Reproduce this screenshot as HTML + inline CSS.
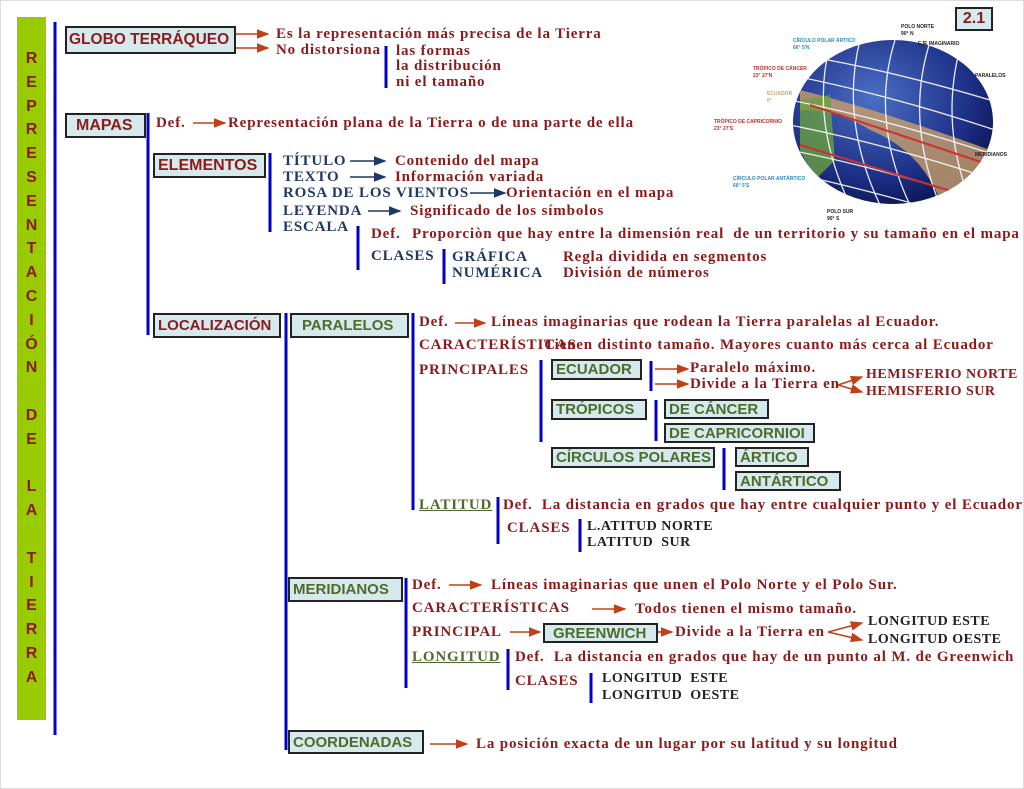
<!DOCTYPE html>
<html><head><meta charset="utf-8"><style>
body{margin:0;width:1024px;height:789px;position:relative;background:#fff;overflow:hidden;font-family:"Liberation Serif",serif}
.t{position:absolute;white-space:nowrap;line-height:18px;font-weight:bold;font-size:15px;letter-spacing:0.85px;color:#8b1a1a}
.n{color:#1f3864}
.k{color:#222;font-size:14px;letter-spacing:0.5px}
.b{position:absolute;border:2px solid #222;background:#d6eaee;font-family:"Liberation Sans",sans-serif;font-weight:bold;font-size:15px;color:#8b1a1a;box-sizing:border-box;padding-left:3px;white-space:nowrap;display:flex;align-items:center}
.g{color:#4f6b2a}
.u{color:#4f6b2a;text-decoration:underline}
#bar{position:absolute;left:17px;top:17px;width:29px;height:703px;background:#99cc00}
#letters{position:absolute;left:17px;top:47px;width:29px;text-align:center;font-family:"Liberation Sans",sans-serif;font-weight:bold;font-size:16px;color:#8b1a1a;line-height:23.8px}
</style></head><body>
<div id="bar"></div>
<div id="letters">R<br>E<br>P<br>R<br>E<br>S<br>E<br>N<br>T<br>A<br>C<br>I<br>Ó<br>N<br>&nbsp;<br>D<br>E<br>&nbsp;<br>L<br>A<br>&nbsp;<br>T<br>I<br>E<br>R<br>R<br>A</div>

<svg width="1024" height="789" style="position:absolute;left:0;top:0">
<defs>
<marker id="r" markerWidth="8" markerHeight="8" refX="7" refY="4" orient="auto"><path d="M0,1 L8,4 L0,7z" fill="#c0401a"/></marker>
<marker id="v" markerWidth="8" markerHeight="8" refX="7" refY="4" orient="auto"><path d="M0,1 L8,4 L0,7z" fill="#1f3864"/></marker>
<radialGradient id="gl" cx="0.4" cy="0.35" r="0.7"><stop offset="0" stop-color="#4a6fc4"/><stop offset="0.7" stop-color="#1d2f86"/><stop offset="1" stop-color="#0c1550"/></radialGradient>
<clipPath id="cp"><ellipse cx="893" cy="122" rx="100" ry="82"/></clipPath>
</defs>
<rect x="0.5" y="0.5" width="1023" height="788" fill="none" stroke="#ddd"/>
<g stroke="#0000cc" stroke-width="3">
<line x1="55" y1="22" x2="55" y2="735"/>
<line x1="386" y1="46" x2="386" y2="88"/>
<line x1="148" y1="113" x2="148" y2="335"/>
<line x1="270" y1="153" x2="270" y2="232"/>
<line x1="358" y1="226" x2="358" y2="270"/>
<line x1="444" y1="249" x2="444" y2="284"/>
<line x1="286" y1="313" x2="286" y2="750"/>
<line x1="413" y1="313" x2="413" y2="510"/>
<line x1="541" y1="360" x2="541" y2="442"/>
<line x1="651" y1="361" x2="651" y2="391"/>
<line x1="656" y1="400" x2="656" y2="441"/>
<line x1="724" y1="448" x2="724" y2="490"/>
<line x1="498" y1="497" x2="498" y2="544"/>
<line x1="580" y1="519" x2="580" y2="552"/>
<line x1="406" y1="578" x2="406" y2="688"/>
<line x1="508" y1="649" x2="508" y2="690"/>
<line x1="591" y1="673" x2="591" y2="703"/>
</g>
<g stroke="#c0401a" stroke-width="1.6" marker-end="url(#r)">
<line x1="236" y1="34" x2="268" y2="34"/>
<line x1="236" y1="48" x2="268" y2="48"/>
<line x1="193" y1="123" x2="225" y2="123"/>
<line x1="455" y1="323" x2="485" y2="323"/>
<line x1="655" y1="369" x2="688" y2="369"/>
<line x1="655" y1="384" x2="688" y2="384"/>
<line x1="838" y1="385" x2="862" y2="377"/>
<line x1="838" y1="385" x2="862" y2="392"/>
<line x1="449" y1="585" x2="481" y2="585"/>
<line x1="592" y1="609" x2="625" y2="609"/>
<line x1="510" y1="632" x2="540" y2="632"/>
<line x1="658" y1="632" x2="672" y2="632"/>
<line x1="828" y1="632" x2="862" y2="623"/>
<line x1="828" y1="632" x2="862" y2="640"/>
<line x1="430" y1="744" x2="467" y2="744"/>
</g>
<g stroke="#1f3864" stroke-width="1.6" marker-end="url(#v)">
<line x1="350" y1="161" x2="385" y2="161"/>
<line x1="350" y1="177" x2="385" y2="177"/>
<line x1="470" y1="193" x2="505" y2="193"/>
<line x1="368" y1="211" x2="400" y2="211"/>
</g>
<ellipse cx="893" cy="122" rx="100" ry="82" fill="url(#gl)"/>
<g clip-path="url(#cp)">
<path d="M800,90 Q880,110 990,150 L990,200 L940,200 Q920,150 870,130 Q840,110 800,110z" fill="#c9a06a" opacity="0.8"/>
<path d="M800,100 L830,95 L835,160 L815,180 L800,150z" fill="#6aa040" opacity="0.8"/>
<g stroke="#fff" stroke-width="1.3" fill="none" opacity="0.9">
<path d="M790,75 Q890,95 995,130"/><path d="M790,100 Q890,120 995,155"/><path d="M790,125 Q890,145 995,180"/><path d="M790,150 Q890,170 995,205"/><path d="M800,55 Q890,70 990,100"/><path d="M800,175 Q890,195 985,225"/>
<path d="M830,45 Q810,120 850,205"/><path d="M860,40 Q840,120 880,205"/><path d="M895,40 Q870,120 910,205"/><path d="M930,42 Q905,120 940,205"/><path d="M960,48 Q940,125 970,200"/>
</g>
<line x1="810" y1="105" x2="990" y2="165" stroke="#d03030" stroke-width="2"/>
<line x1="800" y1="145" x2="980" y2="200" stroke="#d03030" stroke-width="2"/>
</g>
<g font-family="Liberation Sans,sans-serif" font-size="5" font-weight="bold">
<text x="901" y="28" fill="#222">POLO NORTE</text><text x="901" y="35" fill="#222">90° N</text>
<text x="918" y="45" fill="#222">EJE IMAGINARIO</text>
<text x="793" y="42" fill="#2a8ac0">CÍRCULO POLAR ÁRTICO</text><text x="793" y="49" fill="#2a8ac0">66° 5'N</text>
<text x="753" y="70" fill="#c03030">TRÓPICO DE CÁNCER</text><text x="753" y="77" fill="#c03030">23° 27'N</text>
<text x="767" y="95" fill="#d0a070">ECUADOR</text><text x="767" y="102" fill="#d0a070">0°</text>
<text x="714" y="123" fill="#c03030">TRÓPICO DE CAPRICORNIO</text><text x="714" y="130" fill="#c03030">23° 27'S</text>
<text x="975" y="77" fill="#222">PARALELOS</text><text x="975" y="156" fill="#222">MERIDIANOS</text>
<text x="733" y="180" fill="#2a8ac0">CÍRCULO POLAR ANTÁRTICO</text><text x="733" y="187" fill="#2a8ac0">66° 5'S</text>
<text x="827" y="213" fill="#222">POLO SUR</text><text x="827" y="220" fill="#222">90° S</text>
</g>
</svg>

<div class="b" style="left:955px;top:7px;width:38px;height:24px;font-size:16px;justify-content:center;padding:0">2.1</div>

<div class="b" style="left:65px;top:26px;width:171px;height:28px;font-size:15.5px;padding-left:2px">GLOBO TERRÁQUEO</div>
<div class="t" style="left:276px;top:25px">Es la representación más precisa de la Tierra</div>
<div class="t" style="left:276px;top:41px">No distorsiona</div>
<div class="t" style="left:396px;top:42px">las formas</div>
<div class="t" style="left:396px;top:57px">la distribución</div>
<div class="t" style="left:396px;top:73px">ni el tamaño</div>

<div class="b" style="left:65px;top:113px;width:81px;height:25px;font-size:16px;padding-left:9px">MAPAS</div>
<div class="t" style="left:156px;top:114px">Def.</div>
<div class="t" style="left:228px;top:114px">Representación plana de la Tierra o de una parte de ella</div>

<div class="b" style="left:153px;top:153px;width:113px;height:25px;font-size:16px">ELEMENTOS</div>
<div class="t n" style="left:283px;top:152px">TÍTULO</div>
<div class="t n" style="left:283px;top:168px">TEXTO</div>
<div class="t n" style="left:283px;top:184px">ROSA DE LOS VIENTOS</div>
<div class="t n" style="left:283px;top:202px">LEYENDA</div>
<div class="t n" style="left:283px;top:218px">ESCALA</div>
<div class="t" style="left:395px;top:152px">Contenido del mapa</div>
<div class="t" style="left:395px;top:168px">Información variada</div>
<div class="t" style="left:506px;top:184px">Orientación en el mapa</div>
<div class="t" style="left:410px;top:202px">Significado de los símbolos</div>
<div class="t" style="left:371px;top:225px">Def.</div>
<div class="t" style="left:412px;top:225px">Proporciòn que hay entre la dimensión real&nbsp; de un territorio y su tamaño en el mapa</div>
<div class="t n" style="left:371px;top:247px">CLASES</div>
<div class="t n" style="left:452px;top:248px">GRÁFICA</div>
<div class="t n" style="left:452px;top:264px">NUMÉRICA</div>
<div class="t" style="left:563px;top:248px">Regla dividida en segmentos</div>
<div class="t" style="left:563px;top:264px">División de números</div>

<div class="b" style="left:153px;top:313px;width:128px;height:25px">LOCALIZACIÓN</div>
<div class="b g" style="left:290px;top:313px;width:119px;height:25px;padding-left:10px">PARALELOS</div>
<div class="t" style="left:419px;top:313px">Def.</div>
<div class="t" style="left:491px;top:313px">Líneas imaginarias que rodean la Tierra paralelas al Ecuador.</div>
<div class="t" style="left:419px;top:336px">CARACTERÍSTICAS</div>
<div class="t" style="left:544px;top:336px">Tienen distinto tamaño. Mayores cuanto más cerca al Ecuador</div>
<div class="t" style="left:419px;top:361px">PRINCIPALES</div>
<div class="b g" style="left:551px;top:359px;width:91px;height:21px">ECUADOR</div>
<div class="t" style="left:690px;top:359px">Paralelo máximo.</div>
<div class="t" style="left:690px;top:375px">Divide a la Tierra en</div>
<div class="t k" style="left:866px;top:366px;color:#8b1a1a">HEMISFERIO NORTE</div>
<div class="t k" style="left:866px;top:383px;color:#8b1a1a">HEMISFERIO SUR</div>
<div class="b g" style="left:551px;top:399px;width:96px;height:21px">TRÓPICOS</div>
<div class="b g" style="left:664px;top:399px;width:105px;height:20px">DE CÁNCER</div>
<div class="b g" style="left:664px;top:423px;width:151px;height:20px">DE CAPRICORNIOI</div>
<div class="b g" style="left:551px;top:447px;width:164px;height:21px">CÍRCULOS POLARES</div>
<div class="b g" style="left:735px;top:447px;width:74px;height:20px">ÁRTICO</div>
<div class="b g" style="left:735px;top:471px;width:106px;height:20px">ANTÁRTICO</div>
<div class="t u" style="left:419px;top:496px">LATITUD</div>
<div class="t" style="left:503px;top:496px">Def.&nbsp; La distancia en grados que hay entre cualquier punto y el Ecuador</div>
<div class="t" style="left:507px;top:519px">CLASES</div>
<div class="t k" style="left:587px;top:518px">L.ATITUD NORTE</div>
<div class="t k" style="left:587px;top:534px">LATITUD&nbsp; SUR</div>

<div class="b g" style="left:288px;top:577px;width:115px;height:25px">MERIDIANOS</div>
<div class="t" style="left:412px;top:576px">Def.</div>
<div class="t" style="left:491px;top:576px">Líneas imaginarias que unen el Polo Norte y el Polo Sur.</div>
<div class="t" style="left:412px;top:599px">CARACTERÍSTICAS</div>
<div class="t" style="left:635px;top:600px">Todos tienen el mismo tamaño.</div>
<div class="t" style="left:412px;top:623px">PRINCIPAL</div>
<div class="b g" style="left:543px;top:623px;width:115px;height:20px;padding-left:8px">GREENWICH</div>
<div class="t" style="left:675px;top:623px">Divide a la Tierra en</div>
<div class="t k" style="left:868px;top:613px">LONGITUD ESTE</div>
<div class="t k" style="left:868px;top:631px">LONGITUD OESTE</div>
<div class="t u" style="left:412px;top:648px">LONGITUD</div>
<div class="t" style="left:515px;top:648px">Def.&nbsp; La distancia en grados que hay de un punto al M. de Greenwich</div>
<div class="t" style="left:515px;top:672px">CLASES</div>
<div class="t k" style="left:602px;top:670px">LONGITUD&nbsp; ESTE</div>
<div class="t k" style="left:602px;top:687px">LONGITUD&nbsp; OESTE</div>

<div class="b g" style="left:288px;top:730px;width:136px;height:24px">COORDENADAS</div>
<div class="t" style="left:476px;top:735px">La posición exacta de un lugar por su latitud y su longitud</div>
</body></html>
